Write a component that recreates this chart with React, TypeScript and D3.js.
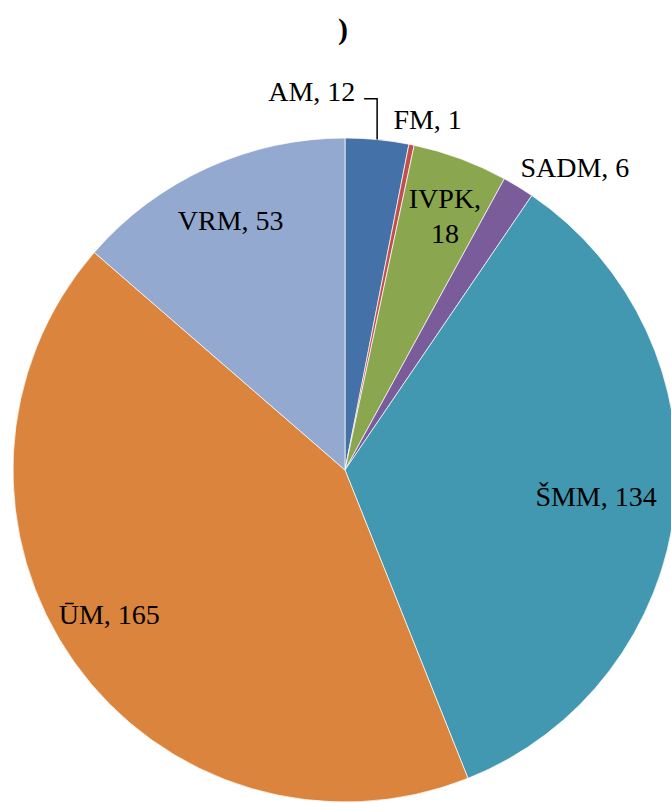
import { useEffect, useRef } from 'react'
import * as d3 from 'd3'

const CATS = ['AM', 'FM', 'IVPK', 'SADM', 'ŠMM', 'ŪM', 'VRM']
const VALUES = [12, 1, 18, 6, 134, 165, 53]
const COLORS = ['#4472a8', '#c0504d', '#8aa64e', '#7a5c9a', '#4298b0', '#db843d', '#94a9d0']
const TITLE = ')'

export default function App() {
  const ref = useRef<SVGSVGElement>(null)
  useEffect(() => {
    if (!ref.current) return
    const cx = 345, cy = 470, R = 332
    const svg = d3.select(ref.current)
    svg.selectAll('*').remove()
    const font = '"Liberation Serif", "Times New Roman", serif'

    svg.append('text').attr('x', 343).attr('y', 39).attr('text-anchor', 'middle')
      .style('font-family', font).style('font-weight', 'bold').style('font-size', '30px').text(TITLE)

    const data = CATS.map((c, i) => ({ cat: c, v: VALUES[i], color: COLORS[i] }))
    const pie = d3.pie<any>().value(d => d.v).sort(null)
    const arcs = pie(data)
    const arc = d3.arc<any>().innerRadius(0).outerRadius(R)
    const g = svg.append('g').attr('transform', `translate(${cx},${cy})`)
    g.selectAll('path').data(arcs).join('path')
      .attr('d', arc).attr('fill', d => d.data.color)
      .attr('stroke', '#fff').attr('stroke-width', 0.7)

    // label placement: radius factor + angle (deg); null = slice mid-angle
    const place: Record<string, { k: number, a: number | null, lines?: string[] }> = {
      AM: { k: 1.15, a: -5 },
      FM: { k: 1.09, a: 13.2 },
      IVPK: { k: 0.825, a: 21.4, lines: ['IVPK,', '18'] },
      SADM: { k: 1.148, a: 37.1 },
      'ŠMM': { k: 0.76, a: 95.7 },
      'ŪM': { k: 0.83, a: 238.8 },
      VRM: { k: 0.83, a: null },
    }
    const pt = (k: number, deg: number) => {
      const t = deg * Math.PI / 180
      return [Math.sin(t) * R * k, -Math.cos(t) * R * k]
    }
    arcs.forEach(d => {
      const p = place[d.data.cat]
      const mid = (d.startAngle + d.endAngle) / 2 * 180 / Math.PI
      const [x, y] = pt(p.k, p.a == null ? mid : p.a)
      const lines = p.lines || [`${d.data.cat}, ${d.data.v}`]
      const t = g.append('text').attr('text-anchor', 'middle')
        .style('font-family', font).style('font-size', '28px').attr('fill', '#000')
      lines.forEach((l, i) => {
        t.append('tspan').attr('x', x).attr('y', y + 11 + (i - (lines.length - 1) / 2) * 35).text(l)
      })
    })

    // leader line for AM
    const [ex, ey] = arc.centroid(arcs[0]).map(v => v * 2)
    const [, ly] = pt(1.15, -5)
    g.append('path').attr('d', `M${ex - 13},${ly + 9}H${ex}V${ey}`)
      .attr('fill', 'none').attr('stroke', '#000').attr('stroke-width', 1.5)
  }, [])
  return (
    <svg ref={ref} width={671} height={803}
      style={{ position: 'absolute', left: 0, top: 0, background: '#fff' }} />
  )
}
